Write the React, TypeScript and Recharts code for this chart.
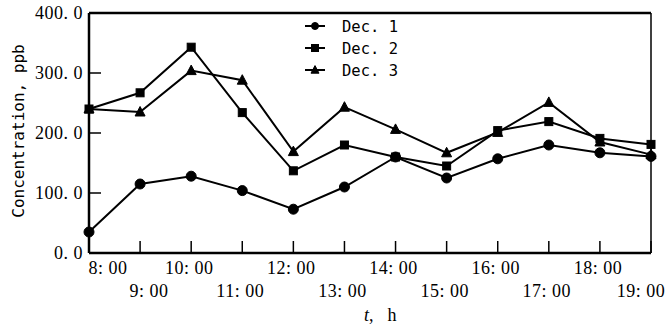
import React from 'react';
import { LineChart, Line, XAxis, YAxis, Legend, ReferenceLine } from 'recharts';

const hours = [8, 9, 10, 11, 12, 13, 14, 15, 16, 17, 18, 19];
const hourLabels = ['8: 00', '9: 00', '10: 00', '11: 00', '12: 00', '13: 00', '14: 00', '15: 00', '16: 00', '17: 00', '18: 00', '19: 00'];
const dec1 = [35, 115, 128, 104, 73, 110, 160, 125, 157, 180, 167, 161];
const dec2 = [240, 267, 343, 234, 137, 180, 160, 145, 204, 219, 191, 181];
const dec3 = [240, 235, 304, 288, 169, 243, 206, 167, 201, 251, 185, 164];
const yTicks = [0, 100, 200, 300, 400];
const yTickLabels = ['0. 0', '100. 0', '200. 0', '300. 0', '400. 0'];
const seriesNames = ['Dec. 1', 'Dec. 2', 'Dec. 3'];

const data = hours.map((h, i) => ({ hour: h, d1: dec1[i], d2: dec2[i], d3: dec3[i] }));

const SERIF = '"Liberation Serif", "Times New Roman", serif';
const MONO = '"DejaVu Sans Mono", "Liberation Mono", monospace';

const PLOT_LEFT = 89;
const PLOT_BOTTOM = 253;

const circleShape = (cx: number, cy: number, r: number, key?: any) => (
  <circle key={key} cx={cx} cy={cy} r={r} fill="#000" stroke="#000" />
);
const squareShape = (cx: number, cy: number, s: number, key?: any) => (
  <rect key={key} x={cx - s / 2} y={cy - s / 2} width={s} height={s} fill="#000" stroke="#000" />
);
const triShape = (cx: number, cy: number, s: number, key?: any) => (
  <polygon
    key={key}
    points={`${cx},${cy - s * 0.55} ${cx - s / 2},${cy + s * 0.4} ${cx + s / 2},${cy + s * 0.4}`}
    fill="#000"
    stroke="#000"
  />
);

const CircleDot = (p: any) => circleShape(p.cx, p.cy, 5, `c${p.index}`);
const SquareDot = (p: any) => squareShape(p.cx, p.cy, 8, `s${p.index}`);
const TriDot = (p: any) => triShape(p.cx, p.cy, 10, `t${p.index}`);

const XTick = (props: any) => {
  const { x, payload } = props;
  const y = PLOT_BOTTOM;
  const h = payload.value as number;
  const idx = hours.indexOf(h);
  const odd = h % 2 === 1;
  let dx = -2;
  if (h === 8) dx = 19;
  if (h === 9) dx = 9;
  if (h === 19) dx = -10;
  return (
    <g>
      <line x1={x} y1={y} x2={x} y2={y - 12} stroke="#000" strokeWidth={1.5} />
      <text
        x={x + dx}
        y={odd ? y + 44 : y + 21}
        textAnchor="middle"
        fontFamily={SERIF}
        fontSize={18}
        letterSpacing={0.5}
        fill="#000"
      >
        {hourLabels[idx]}
      </text>
    </g>
  );
};

const YTick = (props: any) => {
  const { y, payload } = props;
  const x = PLOT_LEFT;
  const idx = yTicks.indexOf(payload.value);
  return (
    <g>
      <line x1={x} y1={y} x2={x + 12} y2={y} stroke="#000" strokeWidth={1.5} />
      <text
        x={x - 6}
        y={y}
        dy={6}
        textAnchor="end"
        fontFamily={SERIF}
        fontSize={18}
        letterSpacing={0.5}
        fill="#000"
      >
        {yTickLabels[idx]}
      </text>
    </g>
  );
};

const LegendContent = () => (
  <svg width={110} height={70} style={{ display: 'block', overflow: 'visible' }}>
    {seriesNames.map((n, i) => {
      const cy = 11 + i * 22;
      return (
        <g key={n}>
          <line x1={0} x2={20} y1={cy} y2={cy} stroke="#000" strokeWidth={2} />
          {i === 0 && circleShape(10, cy, 3.5)}
          {i === 1 && squareShape(10, cy, 7)}
          {i === 2 && triShape(10, cy, 8)}
          <text x={37} y={cy} dy={5.5} fontFamily={MONO} fontSize={15.5} fill="#000">
            {n}
          </text>
        </g>
      );
    })}
  </svg>
);

export default function App() {
  return (
    <div style={{ position: 'absolute', left: 0, top: 0, width: 667, height: 328, background: '#fff' }}>
      <LineChart width={667} height={328} data={data} margin={{ top: 13, right: 16, left: 0, bottom: 0 }}>
        <XAxis
          dataKey="hour"
          type="number"
          domain={[8, 19]}
          ticks={hours}
          interval={0}
          height={75}
          tickLine={false}
          tick={<XTick />}
          axisLine={{ stroke: '#000', strokeWidth: 2.5 }}
          label={{
            content: () => (
              <text x={364} y={321} fontFamily={SERIF} fontSize={18} fill="#000">
                <tspan fontStyle="italic">t</tspan>
                <tspan>,</tspan>
                <tspan dx={14}>h</tspan>
              </text>
            ),
          }}
        />
        <YAxis
          type="number"
          domain={[0, 400]}
          ticks={yTicks}
          interval={0}
          width={89}
          tickLine={false}
          tick={<YTick />}
          axisLine={{ stroke: '#000', strokeWidth: 2.5 }}
          label={{
            content: () => (
              <text
                transform="rotate(-90)"
                x={-131}
                y={18}
                textAnchor="middle"
                dominantBaseline="central"
                fontFamily={MONO}
                fontSize={16}
                fill="#000"
              >
                Concentration, ppb
              </text>
            ),
          }}
        />
        <ReferenceLine y={400} stroke="#000" strokeWidth={2.5} />
        <ReferenceLine x={19} stroke="#000" strokeWidth={1.5} />
        <Legend
          layout="vertical"
          align="center"
          verticalAlign="middle"
          content={<LegendContent />}
          wrapperStyle={{ left: 305, top: 15, width: 110, height: 70 }}
        />
        <Line dataKey="d1" name={seriesNames[0]} stroke="#000" strokeWidth={2} dot={CircleDot} isAnimationActive={false} />
        <Line dataKey="d2" name={seriesNames[1]} stroke="#000" strokeWidth={2} dot={SquareDot} isAnimationActive={false} />
        <Line dataKey="d3" name={seriesNames[2]} stroke="#000" strokeWidth={2} dot={TriDot} isAnimationActive={false} />
      </LineChart>
    </div>
  );
}
